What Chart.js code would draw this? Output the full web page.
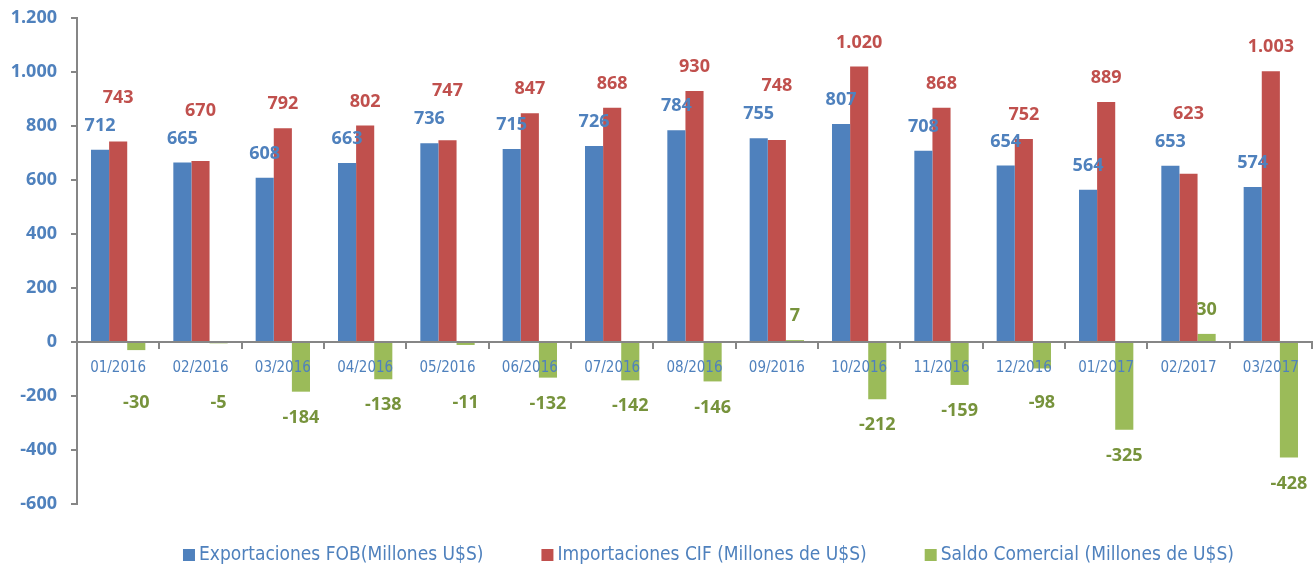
<!DOCTYPE html>
<html>
<head>
<meta charset="utf-8">
<script src="https://cdn.jsdelivr.net/npm/chart.js@4.4.0/dist/chart.umd.min.js"></script>
<style>
  html, body { margin: 0; padding: 0; background: #fff; }
  .chart-container { position: relative; width: 1314px; height: 567px; }
</style>
</head>
<body>
<div class="chart-container">
  <canvas id="balanzaChart"></canvas>
</div>
<script>
const categories = ['01/2016', '02/2016', '03/2016', '04/2016', '05/2016', '06/2016', '07/2016', '08/2016',
    '09/2016', '10/2016', '11/2016', '12/2016', '01/2017', '02/2017', '03/2017'];
const exportaciones = [712, 665, 608, 663, 736, 715, 726, 784, 755, 807, 708, 654, 564, 653, 574];
const importaciones = [743, 670, 792, 802, 747, 847, 868, 930, 748, 1020, 868, 752, 889, 623, 1003];
const saldo = [-30, -5, -184, -138, -11, -132, -142, -146, 7, -212, -159, -98, -325, 30, -428];
const seriesNames = ['Exportaciones FOB(Millones U$S)', 'Importaciones CIF (Millones de U$S)', 'Saldo Comercial (Millones de U$S)'];

const BLUE = '#4F81BD';
const RED = '#C0504D';
const GREEN = '#9BBB59';
const GREEN_TEXT = '#77933C';
const NARROW = "'Liberation Sans Narrow', 'DejaVu Sans Condensed', 'Roboto', sans-serif";
const BOLD = "'Open Sans', Lato, sans-serif";

// thousands with a dot, like the original
const fmt = v => (v < 0 ? '-' : '') + Math.abs(v).toString().replace(/\B(?=(\d{3})+(?!\d))/g, '.');

const valueLabels = {
    id: 'valueLabels',
    afterDatasetsDraw(chart) {
        const ctx = chart.ctx;
        const zeroY = chart.scales.y.getPixelForValue(0);
        ctx.save();
        ctx.font = "bold 18px " + BOLD;
        ctx.textAlign = 'center';
        ctx.textBaseline = 'middle';
        const blues = chart.getDatasetMeta(0).data;
        const reds = chart.getDatasetMeta(1).data;
        const greens = chart.getDatasetMeta(2).data;
        categories.forEach((c, i) => {
            const b = blues[i], r = reds[i], g = greens[i];
            const by = b.y - 24;
            let ry = r.y - 24;
            if (Math.abs(ry - by) < 22) ry = Math.min(ry, by - 28);
            ctx.fillStyle = BLUE;
            ctx.fillText(fmt(exportaciones[i]), b.x, by);
            ctx.fillStyle = RED;
            ctx.fillText(fmt(importaciones[i]), r.x, ry);
            // negative labels go below the bar, but not into the category labels
            let gy;
            if (saldo[i] < 0) gy = Math.max(g.y + 26, zeroY + 61);
            else gy = g.y - 24;
            ctx.fillStyle = GREEN_TEXT;
            ctx.fillText(fmt(saldo[i]), g.x, gy);
        });
        ctx.restore();
    }
};

const bottomLegend = {
    id: 'bottomLegend',
    afterDraw(chart) {
        const ctx = chart.ctx;
        const area = chart.chartArea;
        ctx.save();
        ctx.font = "19px " + NARROW;
        ctx.textBaseline = 'middle';
        const box = 12, gapText = 4, gapItem = 58;
        const items = chart.data.datasets.map(ds => ({
            text: ds.label, color: ds.backgroundColor, w: box + gapText + ctx.measureText(ds.label).width
        }));
        const total = items.reduce((s, it) => s + it.w, 0) + gapItem * (items.length - 1);
        let x = (area.left + area.right) / 2 + 14 - total / 2;
        const y = 555;
        items.forEach(it => {
            ctx.fillStyle = it.color;
            ctx.fillRect(x, y - box / 2, box, box);
            ctx.fillStyle = BLUE;
            ctx.fillText(it.text, x + box + gapText, y);
            x += it.w + gapItem;
        });
        ctx.restore();
    }
};

function drawChart() {
    const ctx = document.getElementById('balanzaChart').getContext('2d');
    new Chart(ctx, {
        type: 'bar',
        data: {
            labels: categories,
            datasets: [
                { label: seriesNames[0], data: exportaciones, backgroundColor: BLUE },
                { label: seriesNames[1], data: importaciones, backgroundColor: RED },
                { label: seriesNames[2], data: saldo, backgroundColor: GREEN }
            ]
        },
        options: {
            responsive: true,
            maintainAspectRatio: false,
            animation: false,
            datasets: { bar: { categoryPercentage: 0.66, barPercentage: 1.0 } },
            layout: { padding: { top: 18, right: 2, bottom: 63, left: 0 } },
            plugins: {
                legend: { display: false },
                tooltip: { enabled: false }
            },
            scales: {
                x: {
                    position: { y: 0 },
                    grid: { display: true, drawOnChartArea: false, drawTicks: true, tickLength: 6, color: '#868686', lineWidth: 2, offset: true },
                    border: { display: true, color: '#868686', width: 2, z: 1 },
                    ticks: { z: 1, color: BLUE, font: { family: NARROW, size: 15 }, padding: 11, maxRotation: 0, autoSkip: false }
                },
                y: {
                    min: -600,
                    max: 1200,
                    afterFit: scale => {
                        scale.width = 77;
                        scale.paddingTop = 0;
                        scale.paddingBottom = 0;
                    },
                    grid: { display: true, drawOnChartArea: false, drawTicks: true, tickLength: 6, color: '#868686', lineWidth: 2 },
                    border: { display: true, color: '#868686', width: 2 },
                    ticks: {
                        stepSize: 200,
                        color: BLUE,
                        padding: 14,
                        font: { family: BOLD, weight: 'bold', size: 18 },
                        callback: v => fmt(v)
                    }
                }
            }
        },
        plugins: [valueLabels, bottomLegend]
    });
}

document.addEventListener('DOMContentLoaded', function() {
    Promise.all([
        document.fonts.load('bold 18px ' + BOLD),
        document.fonts.load('15px ' + NARROW)
    ]).then(drawChart, drawChart);
});
</script>
</body>
</html>
